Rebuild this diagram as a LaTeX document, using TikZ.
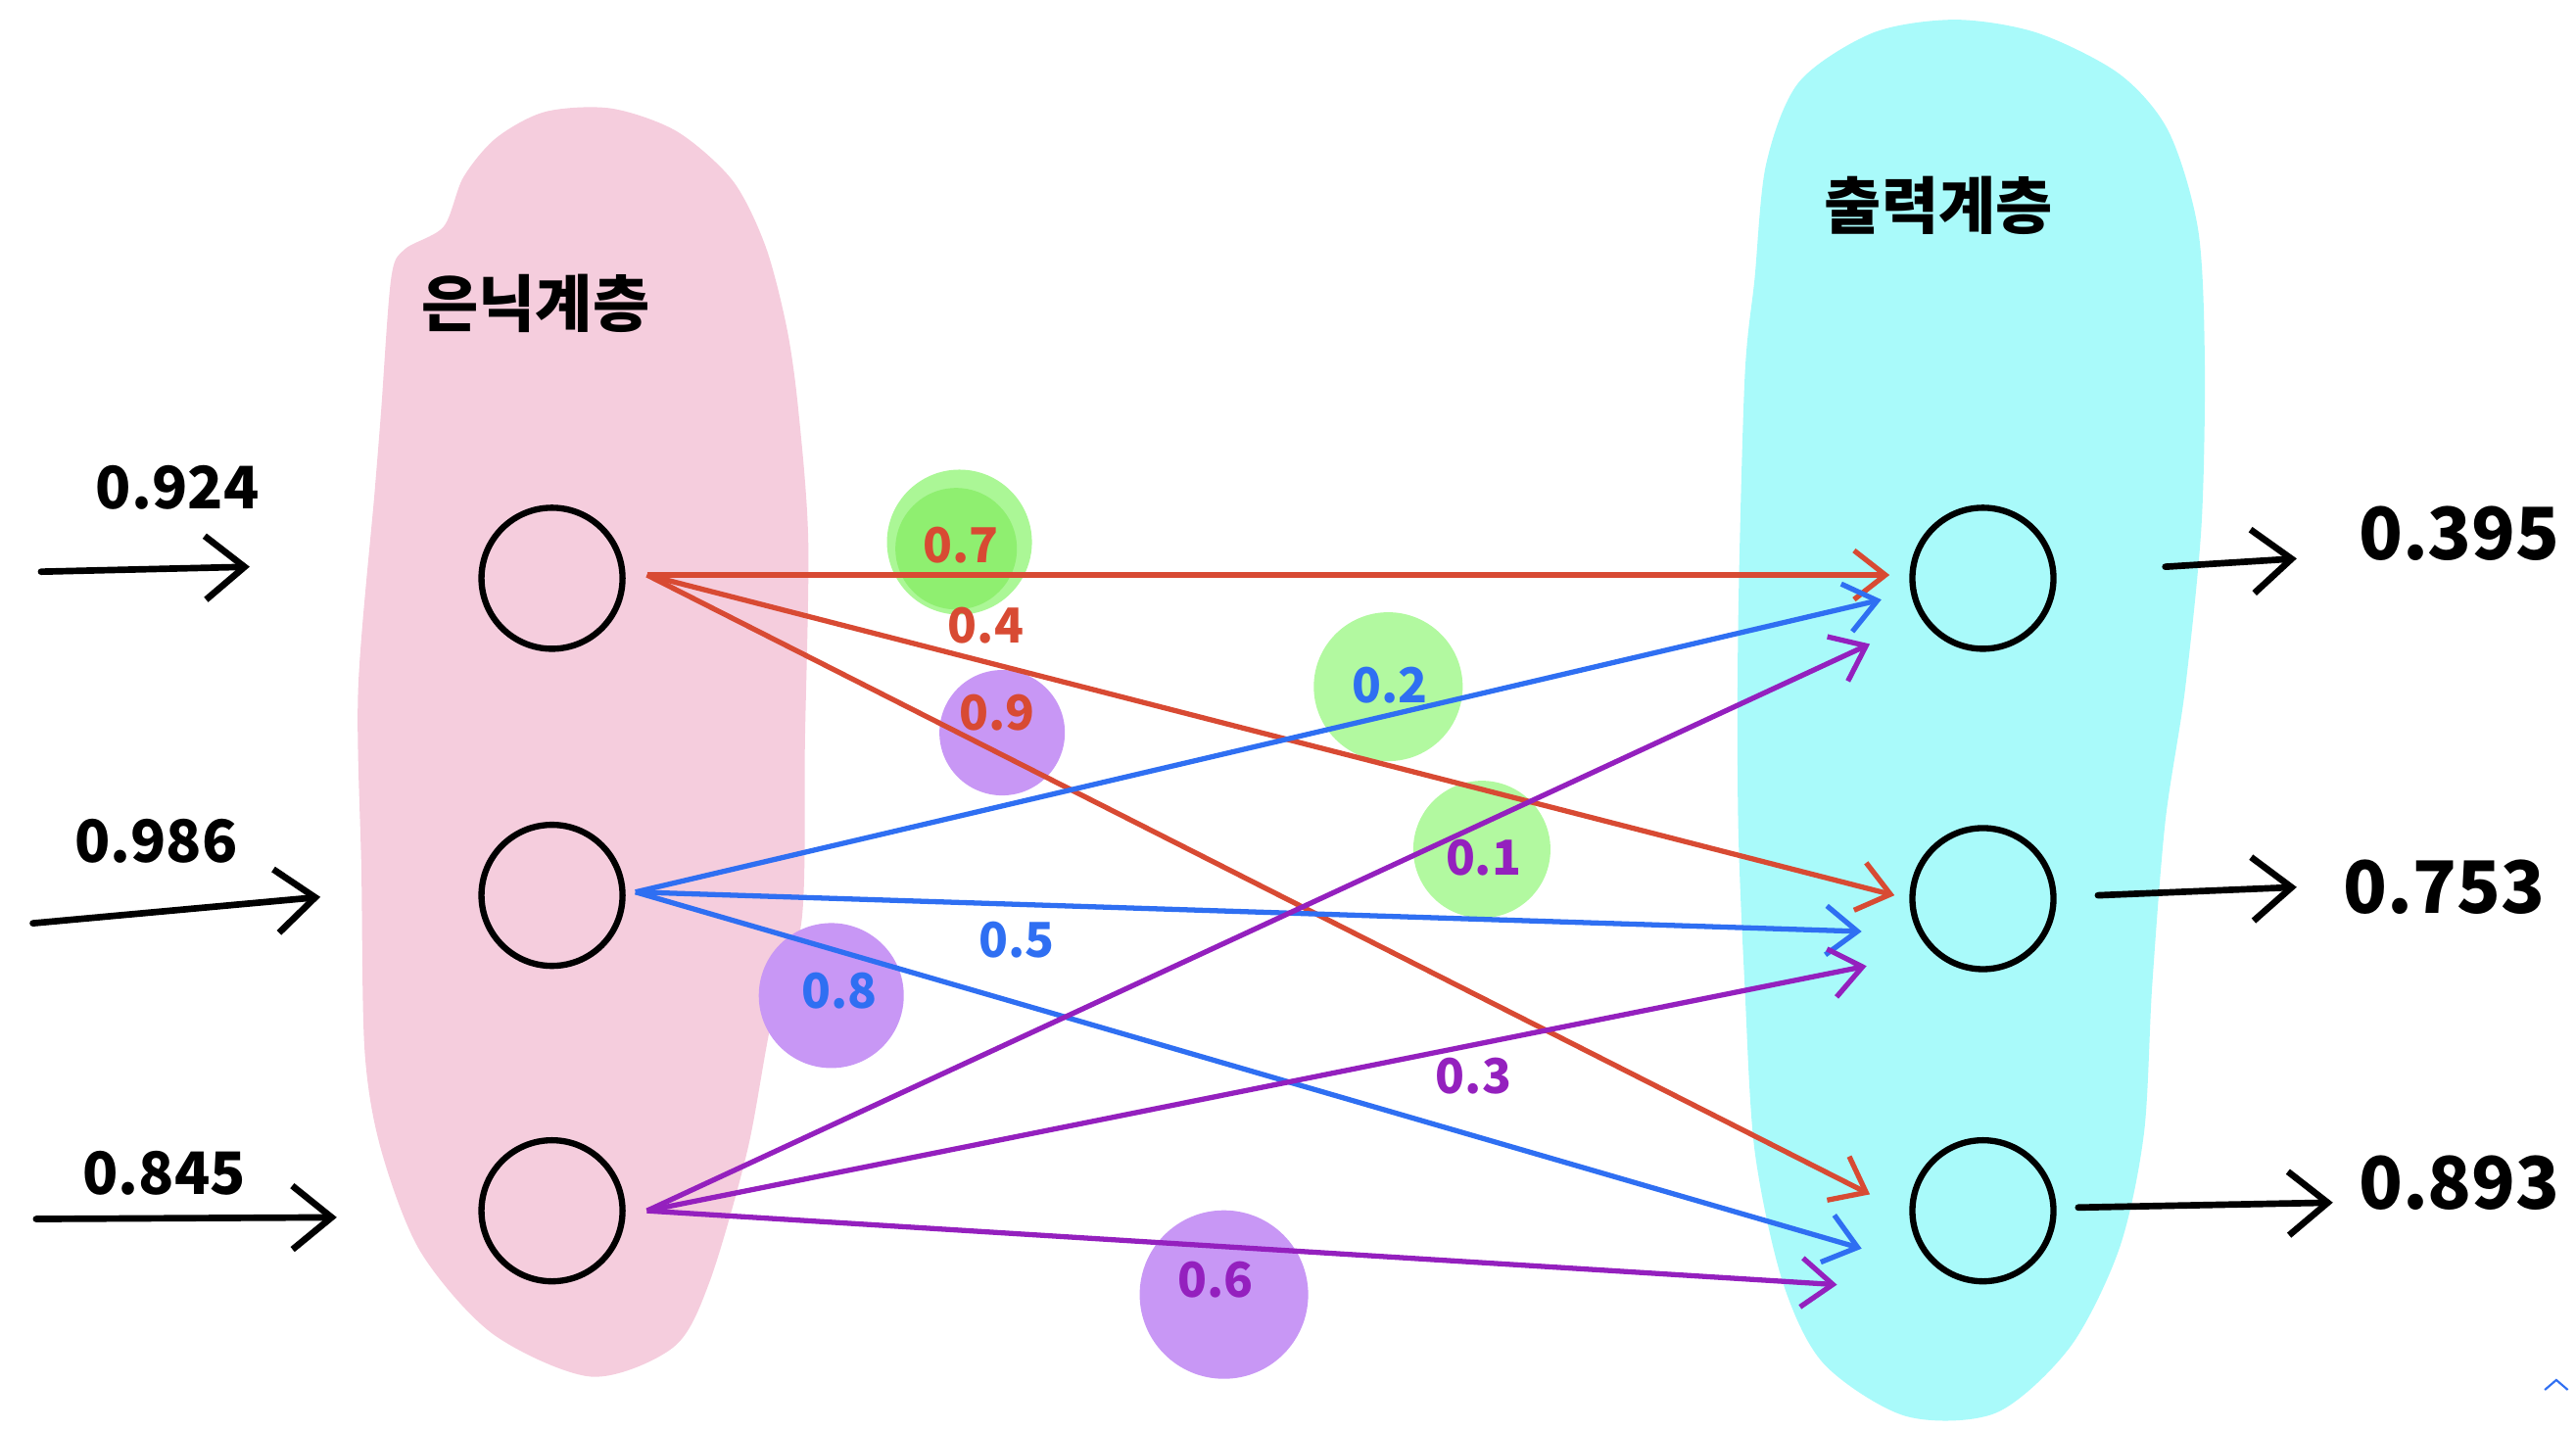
\documentclass[tikz,border=0pt]{standalone}
\usepackage{fontspec}
\setmainfont{Noto Sans CJK KR}
\usetikzlibrary{arrows.meta,calc}

\definecolor{hidpink}{HTML}{F5CDDD}
\definecolor{outcyan}{HTML}{A9FAFA}
\definecolor{wgreen}{HTML}{B2F9A0}
\definecolor{wgreendk}{HTML}{8FEF70}
\definecolor{wpurple}{HTML}{C897F5}
\definecolor{wred}{HTML}{D84A33}
\definecolor{wblue}{HTML}{2F6FF2}
\definecolor{wviolet}{HTML}{9420BE}

\begin{document}
\begin{tikzpicture}
          [x = 0.01677cm, y = -0.01677cm, >= {Straight Barb[length=3.2mm, width=5mm]},
           neuron/.style = {circle, draw, line width = 1.8pt, minimum size = 1.44cm},
           wire/.style = {->, line width = 1.5pt},
           flow/.style = {->, line width = 1.9pt, line cap = round,
                          >= {Straight Barb[length=4mm, width=6.5mm]}},
           layername/.style = {font = \fontsize{18}{20}\selectfont\bfseries},
           inval/.style = {font = \fontsize{17}{19}\selectfont\bfseries},
           outval/.style = {font = \fontsize{21}{24}\selectfont\bfseries},
           wval/.style = {font = \fontsize{14}{16}\selectfont\bfseries, inner sep = 1pt}]
          \useasboundingbox (0,0) rectangle (1568,870.6);
          \fill[hidpink] plot[smooth cycle] coordinates {(270,138) (282,108) (302,84) (332,68) (372,66)
            (412,80) (446,110) (466,150) (479,200) (486,250) (492,330) (490,450) (488,560)
            (470,620) (455,700) (432,780) (410,820) (360,838) (300,812) (256,762) (232,700)
            (222,640) (220,530) (218,420) (228,300) (232,250) (238,170) (246,152)};
          \fill[outcyan] plot[smooth cycle] coordinates {(1190,12) (1240,20) (1290,45) (1320,80)
            (1338,140) (1342,220) (1340,320) (1330,420) (1318,500) (1310,600) (1305,690)
            (1290,760) (1260,820) (1215,860) (1160,862) (1110,830) (1085,780) (1068,700)
            (1062,600) (1058,500) (1058,380) (1062,230) (1068,170) (1075,100) (1095,50) (1140,20)};
          \node[layername] (hidname) at (326,185) {은닉계층};
          \node[layername] (outname) at (1180,125) {출력계층};
          \fill[wgreen!80!wgreendk] (584,330) circle (0.74cm);
          \fill[wgreendk] (582,334) circle (0.62cm);
          \fill[wpurple] (610,446) circle (0.64cm);
          \fill[wgreen] (845,418) circle (0.76cm);
          \fill[wgreen] (902,517) circle (0.70cm);
          \fill[wpurple] (506,606) circle (0.74cm);
          \fill[wpurple] (745,788) circle (0.86cm);
          \node[neuron] (h1) at (336,352) {};
          \node[neuron] (h2) at (336,545) {};
          \node[neuron] (h3) at (336,737) {};
          \node[neuron] (o1) at (1207,352) {};
          \node[neuron] (o2) at (1207,547) {};
          \node[neuron] (o3) at (1207,737) {};
          \draw[wire, wred] ($(h1.east)+(13,-2)$) -- ($(o1.west)+(-12,-2)$);
          \draw[wire, wred] ($(h1.east)+(13,-2)$) -- ($(o2.west)+(-9,-2)$);
          \draw[wire, wred] ($(h1.east)+(13,-2)$) -- ($(o3.west)+(-24,-10)$);
          \draw[wire, wblue] ($(h2.east)+(6,-2)$) -- ($(o1.west)+(-17,13)$);
          \draw[wire, wblue] ($(h2.east)+(6,-2)$) -- ($(o2.west)+(-29,20)$);
          \draw[wire, wblue] ($(h2.east)+(6,-2)$) -- ($(o3.west)+(-29,23)$);
          \draw[wire, wviolet] ($(h3.east)+(13,0)$) -- ($(o1.west)+(-24,40)$);
          \draw[wire, wviolet] ($(h3.east)+(13,0)$) -- ($(o2.west)+(-26,41)$);
          \draw[wire, wviolet] ($(h3.east)+(13,0)$) -- ($(o3.west)+(-44,45)$);
          \node[wval, wred] (w11) at (585,332) {0.7};
          \node[wval, wred] (w12) at (600,381) {0.4};
          \node[wval, wred] (w13) at (607,434) {0.9};
          \node[wval, wblue] (w21) at (846,417) {0.2};
          \node[wval, wblue] (w22) at (619,572) {0.5};
          \node[wval, wblue] (w23) at (511,603) {0.8};
          \node[wval, wviolet] (w31) at (903,522) {0.1};
          \node[wval, wviolet] (w32) at (897,655) {0.3};
          \node[wval, wviolet] (w33) at (740,779) {0.6};
          \coordinate (ina1) at (25,348);
          \coordinate (inb1) at (152,345);
          \coordinate (ina2) at (20,562);
          \coordinate (inb2) at (195,546);
          \coordinate (ina3) at (22,742);
          \coordinate (inb3) at (205,741);
          \draw[flow] (ina1) -- (inb1);
          \draw[flow] (ina2) -- (inb2);
          \draw[flow] (ina3) -- (inb3);
          \node[inval] (in1) at (108,297) {0.924};
          \node[inval] (in2) at (95,512) {0.986};
          \node[inval] (in3) at (100,714) {0.845};
          \coordinate (outa1) at (1318,345);
          \coordinate (outb1) at (1398,340);
          \coordinate (outa2) at (1277,545);
          \coordinate (outb2) at (1398,540);
          \coordinate (outa3) at (1265,735);
          \coordinate (outb3) at (1420,732);
          \draw[flow] (outa1) -- (outb1);
          \draw[flow] (outa2) -- (outb2);
          \draw[flow] (outa3) -- (outb3);
          \node[outval] (out1) at (1497,325) {0.395};
          \node[outval] (out2) at (1488,540) {0.753};
          \node[outval] (out3) at (1497,720) {0.893};
          \draw[wblue, line width = 0.6pt] (1549,846) -- (1556,840) -- (1563,846);
        \end{tikzpicture}
\end{document}
